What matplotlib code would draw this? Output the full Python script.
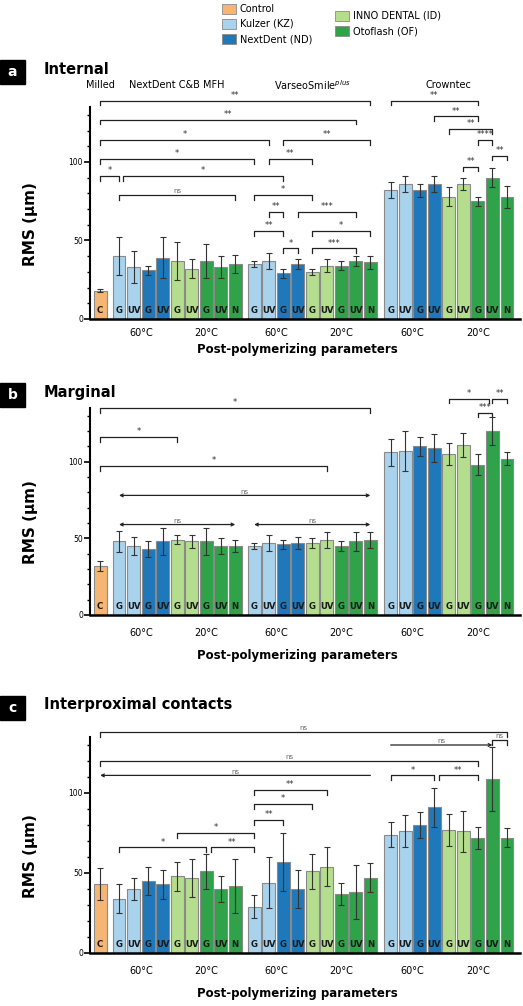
import numpy as np
import matplotlib
matplotlib.use("Agg")
import matplotlib.pyplot as plt
from matplotlib.patches import Rectangle

# ---------------- data ----------------
bar_labels = ["C"] + ["G", "UV", "G", "UV", "G", "UV", "G", "UV", "N"] * 3
color_keys = ["ctrl"] + ["kz", "kz", "nd", "nd", "id", "id", "of", "of", "of"] * 3
colors = {"ctrl": "#F5B673", "kz": "#A9D2EC", "nd": "#1F78BA", "id": "#B5DD8E", "of": "#2FA24A"}

int_mean = [18, 40, 33, 31, 39, 37, 32, 37, 33, 35,
            35, 37, 29, 35, 30, 34, 34, 37, 36,
            82, 86, 82, 86, 78, 86, 75, 90, 78]
int_err = [1, 12, 10, 3, 13, 12, 6, 11, 7, 6,
           2, 5, 3, 3, 2, 4, 3, 3, 4,
           5, 5, 4, 5, 6, 4, 3, 6, 7]
mar_mean = [32, 48, 45, 43, 48, 49, 48, 48, 45, 45,
            45, 47, 46, 47, 47, 49, 45, 48, 49,
            106, 107, 110, 109, 105, 111, 98, 120, 102]
mar_err = [3, 7, 6, 5, 9, 3, 4, 9, 5, 4,
           2, 5, 3, 4, 3, 5, 3, 6, 5,
           9, 13, 6, 9, 7, 8, 7, 9, 4]
ipc_mean = [43, 34, 40, 45, 43, 48, 47, 51, 40, 42,
            29, 44, 57, 40, 51, 54, 37, 38, 47,
            74, 76, 80, 91, 77, 76, 72, 109, 72]
ipc_err = [10, 9, 7, 9, 9, 9, 12, 11, 8, 17,
           7, 16, 18, 12, 11, 12, 7, 17, 9,
           8, 10, 8, 12, 10, 13, 7, 20, 6]

# brackets: (bar_from, bar_to, y, label, style)
int_br = [(0, 18, 139, "**", "b"), (0, 17, 127, "**", "b"), (0, 11, 114, "*", "b"),
          (12, 18, 114, "**", "b"), (0, 10, 102, "*", "b"), (11, 14, 102, "**", "b"),
          (0, 1, 91, "*", "b"), (1.25, 12, 91, "*", "b"), (1, 9, 79, "ns", "b"),
          (10, 14, 79, "*", "b"), (11, 12, 68, "**", "b"), (13, 17, 68, "***", "b"),
          (10, 12, 56, "**", "b"), (14, 18, 56, "*", "b"), (12, 13, 45, "*", "b"),
          (14, 17, 45, "***", "b"),
          (19, 25, 139, "**", "b"), (22, 25, 129, "**", "b"), (23, 26, 121, "**", "b"),
          (25, 26, 114, "****", "b"), (26, 27, 104, "**", "b"), (24, 25, 97, "**", "b")]
mar_br = [(0, 18, 135, "*", "b"), (0, 5, 116, "*", "b"), (0, 15, 97, "*", "b"),
          (1, 18, 78, "ns", "<->"), (1, 9, 59, "ns", "<->"), (10, 18, 59, "ns", "<->"),
          (23, 25.8, 141, "*", "b"), (25, 26, 132, "***", "b"), (26, 27, 141, "**", "b")]
ipc_br = [(0, 27, 138, "ns", "b"), (19, 26, 130, "ns", "->"), (26, 27, 133, "ns", "b"),
          (0, 25, 120, "ns", "b"), (0, 18, 111, "ns", "<-"), (19, 22, 111, "*", "b"),
          (22.3, 25, 111, "**", "b"), (10, 15, 102, "**", "b"), (10, 14, 93, "*", "b"),
          (10, 12, 83, "**", "b"), (5, 10, 75, "*", "b"), (1, 7, 66, "*", "b"),
          (7.3, 10, 66, "**", "b")]

temp_labels = ["60°C", "20°C"]
group_names = ["Milled", "NextDent C&B MFH", "VarseoSmile$^{plus}$", "Crowntec"]

# ---------------- layout ----------------
X = np.array([0.0] + [1.3 + i for i in range(9)] + [10.6 + i for i in range(9)] + [20.0 + i for i in range(9)])
def pos(k):
    return float(np.interp(k, np.arange(len(X)), X))

W, H = 523, 1006
fig = plt.figure(figsize=(W / 100, H / 100), dpi=100)

def fx(px): return px / W
def fy(py): return 1 - py / H

def panel(y_zero, y_top, mean, err, brackets, letter, title, ly, xlabel_y, temp_off):
    ax = fig.add_axes([fx(90), fy(y_zero), fx(430), (y_zero - y_top) / H])
    cols = [colors[k] for k in color_keys]
    ax.bar(X, mean, width=0.88, color=cols, edgecolor="#8a8a8a", linewidth=0.8, zorder=2)
    ax.errorbar(X, mean, yerr=err, fmt="none", ecolor="#333333", elinewidth=0.8, capsize=2.5, capthick=0.8, zorder=3)
    for x, lab in zip(X, bar_labels):
        ax.text(x, 2.5, lab, ha="center", va="bottom", fontsize=6.2, fontweight="bold", color="#1a1a1a", zorder=4)
    ax.set_xlim(-0.7, 28.9)
    ax.set_ylim(0, 135)
    for s in ["top", "right"]:
        ax.spines[s].set_visible(False)
    ax.spines["left"].set_linewidth(1.5)
    ax.spines["bottom"].set_linewidth(1.8)
    ax.set_xticks([])
    ax.set_yticks([0, 50, 100])
    ax.set_yticks(np.arange(0, 131, 10), minor=True)
    ax.tick_params(axis="y", which="major", labelsize=5.5, length=4, width=1.2, pad=1)
    ax.tick_params(axis="y", which="minor", length=2.5, width=1)
    ax.set_ylabel("RMS (µm)", fontsize=11, fontweight="bold", labelpad=8)
    ax.yaxis.set_label_coords(-0.12, 0.45)
    for g in range(3):
        base = 1 + 9 * g
        for t, (a, b) in enumerate([(0, 3), (4, 8)]):
            xm = (pos(base + a) + pos(base + b)) / 2
            ax.text(xm, -temp_off, temp_labels[t], ha="center", va="center", fontsize=7)
    fig.text(fx(297), fy(xlabel_y), "Post-polymerizing parameters", ha="center", va="center",
             fontsize=8.5, fontweight="bold")
    for a, b, y, lab, st in brackets:
        x1, x2 = pos(a), pos(b)
        if st == "b":
            ax.plot([x1, x1, x2, x2], [y - 3, y, y, y - 3], color="#222222", lw=0.9, clip_on=False)
        else:
            ax.annotate("", xy=(x2, y), xytext=(x1, y), arrowprops=dict(arrowstyle=st, color="#222222", lw=0.9,
                        mutation_scale=5, shrinkA=0, shrinkB=0), annotation_clip=False)
        ax.text((x1 + x2) / 2, y + 0.5, lab, ha="center", va="bottom",
                fontsize=5 if lab == "ns" else 6, color="#333333" if lab != "ns" else "#666666")
    fig.patches.append(Rectangle((0, fy(ly + 12)), fx(25), 24 / H, transform=fig.transFigure,
                                 color="black"))
    fig.text(fx(12.5), fy(ly), letter, ha="center", va="center", color="white", fontsize=10, fontweight="bold")
    fig.text(fx(44), fy(ly - 3), title, ha="left", va="center", fontsize=10.5, fontweight="bold")
    return ax

axa = panel(319, 107, int_mean, int_err, int_br, "a", "Internal", 72, 350, 9)
gx = [pos(0), (pos(1) + pos(9)) / 2, (pos(10) + pos(18)) / 2, (pos(19) + pos(27)) / 2]
for x, name in zip(gx, group_names):
    axa.text(x, 149, name, ha="center", va="center", fontsize=7)
panel(615, 408, mar_mean, mar_err, mar_br, "b", "Marginal", 395, 656, 12)
panel(953, 737, ipc_mean, ipc_err, ipc_br, "c", "Interproximal contacts", 708, 993, 11)

leg = [("Control", "ctrl", 222, 9), ("Kulzer (KZ)", "kz", 222, 24), ("NextDent (ND)", "nd", 222, 39),
       ("INNO DENTAL (ID)", "id", 335, 16), ("Otoflash (OF)", "of", 335, 31)]
for name, k, px, py in leg:
    fig.patches.append(Rectangle((fx(px), fy(py + 5)), fx(14), 10 / H, transform=fig.transFigure,
                                 facecolor=colors[k], edgecolor="#8a8a8a", linewidth=0.6))
    fig.text(fx(px + 18), fy(py), name, ha="left", va="center", fontsize=7)

fig.savefig("out.png", dpi=100)
